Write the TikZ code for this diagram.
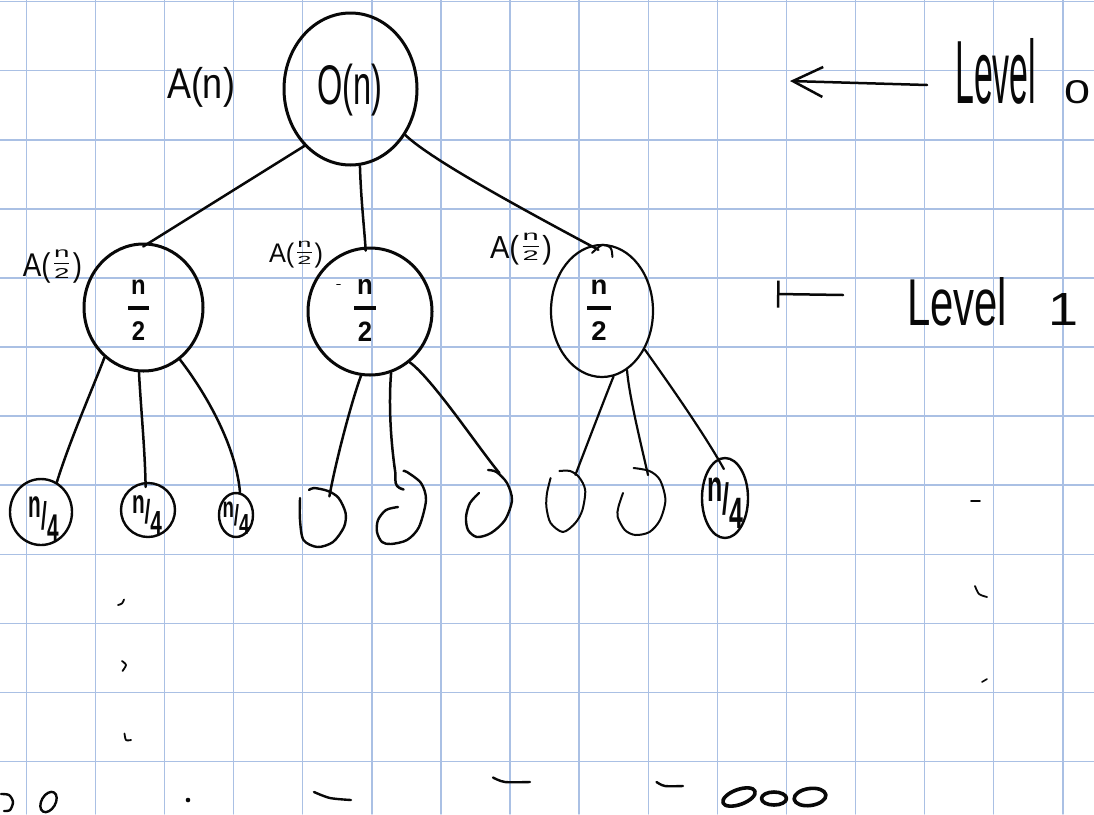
\documentclass[tikz,border=0pt]{standalone}
\usepackage{fontspec}
\setmainfont{Liberation Sans}
\usepackage{amsmath}
\usepackage{graphicx}
\usetikzlibrary{shapes.geometric,arrows.meta}

\definecolor{gridblue}{RGB}{170,192,228}
\definecolor{ink}{RGB}{8,8,8}

% handwritten-looking labels: squeeze the text into a given box (width, total height)
\newcommand\handbox[3]{\resizebox*{#1pt}{#2pt}{#3}}
\newcommand\nquarter{\bfseries\raisebox{0.30em}{n}/\raisebox{-0.30em}{4}}
\newcommand\nhalf{\bfseries$\genfrac{}{}{1.4pt}{0}{\mbox{\kern0.12em n\kern0.12em}}{\mbox{2}}$}
\newcommand\Ahalf{\raisebox{-0.62em}{\scalebox{1}[2.3]{A(}}$\genfrac{}{}{0.9pt}{0}{\mbox{n}}{\mbox{2}}$\raisebox{-0.62em}{\scalebox{1}[2.3]{)}}}

\begin{document}
\begin{tikzpicture}[x=1pt,y=-1pt,line cap=round,line join=round,ink,
  bignode/.style={ellipse,draw=ink,line width=3pt,inner sep=0pt},
  midnode/.style={ellipse,draw=ink,line width=2.2pt,inner sep=0pt},
  leafnode/.style={ellipse,draw=ink,line width=2.4pt,inner sep=0pt},
  spot/.style={ellipse,inner sep=0pt},
  lbl/.style={inner sep=0pt,text=ink},
  wire/.style={draw=ink,line width=2.5pt},
  pen/.style={draw=ink,line width=2.4pt},
  gridline/.style={draw=gridblue,line width=1.4pt}]

% paper
\fill[white] (0,0) rectangle (1094,814);
\useasboundingbox (0,0) rectangle (1094,814);
\foreach \k in {0,...,15} \draw[gridline] ({26.3+69.1*\k},0) -- ++(0,814);
\foreach \k in {0,...,11} \draw[gridline] (0,{1.7+69.07*\k}) -- ++(1094,0);

% ---- level 0 ----
\node[bignode,minimum width=133pt,minimum height=152pt] (root) at (350.5,89) {};
\node[lbl] (rootT) at (350,90) {\handbox{65}{52}{O(n)}};
\node[lbl] (An) at (201,87) {\handbox{68}{40}{A(n)}};

% ---- level 1 ----
\node[bignode,minimum width=119pt,minimum height=127pt] (c1) at (143.5,307.5) {};
\node[bignode,minimum width=124pt,minimum height=127pt] (c2) at (370,311.5) {};
\node[midnode,minimum width=102pt,minimum height=132pt] (c3) at (602,311) {};
\node[lbl] (c1T) at (138.5,310) {\handbox{26}{60}{\nhalf}};
\node[lbl] (c2T) at (365,310) {\handbox{28}{62}{\nhalf}};
\node[lbl] (c3T) at (599,310) {\handbox{30}{60}{\nhalf}};
\node[lbl] (A1) at (52.5,266.5) {\handbox{59}{33}{\Ahalf}};
\node[lbl] (A2) at (296,254.5) {\handbox{54}{27}{\Ahalf}};
\node[lbl] (A3) at (521,249) {\handbox{62}{32}{\Ahalf}};
\draw[line width=1.6pt] (337,284.5) -- (340,284.5);
\draw[line width=2pt] plot[smooth] coordinates {(592,253) (602,245) (610.7,248) (612.4,257)};

% ---- level 2 ----
\node[leafnode,minimum width=62pt,minimum height=66pt] (l1) at (41,512) {};
\node[leafnode,minimum width=54pt,minimum height=54pt] (l2) at (148,510) {};
\node[leafnode,minimum width=34pt,minimum height=44pt] (l3) at (236,515) {};
\node[spot,minimum width=46pt,minimum height=60pt] (l4) at (323,518) {};
\node[spot,minimum width=49pt,minimum height=73pt] (l5) at (401.5,507.5) {};
\node[spot,minimum width=46pt,minimum height=68pt] (l6) at (489.5,504) {};
\node[spot,minimum width=40pt,minimum height=62pt] (l7) at (565.5,502) {};
\node[spot,minimum width=48pt,minimum height=66pt] (l8) at (641,501.5) {};
\node[leafnode,minimum width=46pt,minimum height=80pt] (l9) at (725,498) {};
\node[lbl] (l1T) at (44,519) {\handbox{30}{44}{\nquarter}};
\node[lbl] (l2T) at (147,515) {\handbox{30}{38}{\nquarter}};
\node[lbl] (l3T) at (236,518) {\handbox{27}{33}{\nquarter}};
\node[lbl] (l9T) at (725,503) {\handbox{36}{50}{\nquarter}};

% open, unlabelled leaves
\draw[pen] plot[smooth] coordinates {(300,498) (300,520) (303.5,540) (317.5,547) (333,542) (344,527) (345.6,513) (338.6,498) (328,491) (314,488) (309,490)};
\draw[pen] plot[smooth] coordinates {(398,507) (386,510) (378,520) (377,532) (382,542) (391,544) (407,540) (419,527) (426,500) (421,483) (407,472) (403.5,471)};
\draw[pen] plot[smooth] coordinates {(479,493) (470,503) (466,517) (468,530) (477,537) (491,533) (505,520) (512,500) (507,483) (496.5,472) (488,470)};
\draw[pen,line width=2pt] plot[smooth] coordinates {(550.6,478) (547,493) (546.4,507) (550.6,523) (563,532) (575.3,523) (582.4,510) (585.2,490) (578.9,477) (570,471) (559.4,471)};
\draw[pen,line width=2pt] plot[smooth] coordinates {(623,493) (618.4,507) (617.7,517) (624.8,530) (635.4,535) (649.5,532) (660,520) (665.4,500) (660,480) (649.5,471) (633.6,468)};

% ---- edges ----
\draw[wire,shorten >=-7pt] (root.231) -- (c1.85);
\draw[wire,shorten >=-4pt] (root.277) .. controls (361,200) and (364,225) .. (c2.94);
\draw[wire,shorten >=-9pt] (root.320) .. controls (428,157) and (505,200) .. (c3.100);

\draw[wire] (c1.232) .. controls (92,390) and (70,440) .. (l1.62);
\draw[wire,shorten >=-5pt] (c1.266) .. controls (141,410) and (145,450) .. (l2.95);
\draw[wire] (c1.305) .. controls (205,392) and (236,445) .. (l3.80);

\draw[wire,shorten >=-7pt] (c2.262) .. controls (352,400) and (336,460) .. (l4.75);
\draw[wire] (c2.289) .. controls (388,410) and (392,450) .. (l5.100)
  -- ++(0.3,10.5) .. controls +(1,5) and +(-3,-1) .. ++(8,7);
\draw[wire] (c2.308) .. controls (432,378) and (480,450) .. (l6.72);

\draw[wire,line width=2.2pt] (c3.280) .. controls (604,400) and (585,450) .. (l7.70);
\draw[wire,line width=2.2pt,shorten >=-6pt] (c3.293) .. controls (629,395) and (640,440) .. (l8.80);
\draw[wire,line width=2.2pt,shorten >=-12pt] (c3.318) .. controls (670,385) and (705,435) .. (l9.100);

% ---- level markers ----
\node[lbl,anchor=base west] (lv0) at (955,103) {\resizebox{81pt}{65pt}{Level}\hspace{28pt}\resizebox{26pt}{23pt}{0}};
\node[lbl,anchor=base west] (lv1) at (907,325) {\resizebox{100pt}{48pt}{Level}\hspace{41pt}\resizebox{30pt}{32pt}{1}};
\coordinate (a0s) at (927,85);
\coordinate (a0e) at (790,81);
\coordinate (a1s) at (843,295);
\coordinate (a1e) at (777,294);
\draw[wire,-{Straight Barb[length=30pt,width=30pt]}] (a0s) -- (a0e);
\draw[wire,-{Bar[width=27pt]}] (a1s) -- (a1e);

% ---- stray pen marks ----
\draw[line width=1.8pt] plot[smooth] coordinates {(118,605) (122,603.5) (124,599.5)};
\draw[line width=1.8pt] plot[smooth] coordinates {(122,661) (126,665) (122.5,671)};
\draw[line width=1.8pt] plot[smooth] coordinates {(124.5,733.5) (126,740) (131,740)};
\draw[line width=1.8pt] (971,501) -- (980,501);
\draw[line width=1.8pt] plot[smooth] coordinates {(975,586) (979,594) (987,597)};
\draw[line width=1.6pt] (982,682) -- (987,679);
\draw[pen] plot[smooth] coordinates {(1,794) (9,795) (13,802) (10,810) (4,811)};
\draw[pen,rotate around={-30:(48.5,802)}] (48.5,802) ellipse [x radius=7, y radius=11];
\fill (188,800) circle [radius=2.3];
\draw[pen] plot[smooth] coordinates {(314,792) (330,798) (351,800)};
\draw[pen] plot[smooth] coordinates {(493,777.5) (505,782) (530,782)};
\draw[pen] plot[smooth] coordinates {(656.5,782) (665,786) (683,786)};
\draw[line width=3.6pt,rotate around={20:(739,797)}] (739,797) ellipse [x radius=17, y radius=7.5];
\draw[line width=3.6pt] (774,798.5) ellipse [x radius=12.5, y radius=6.5];
\draw[line width=3.6pt,rotate around={8:(810,797)}] (810,797) ellipse [x radius=16, y radius=8.5];
\end{tikzpicture}
\end{document}
